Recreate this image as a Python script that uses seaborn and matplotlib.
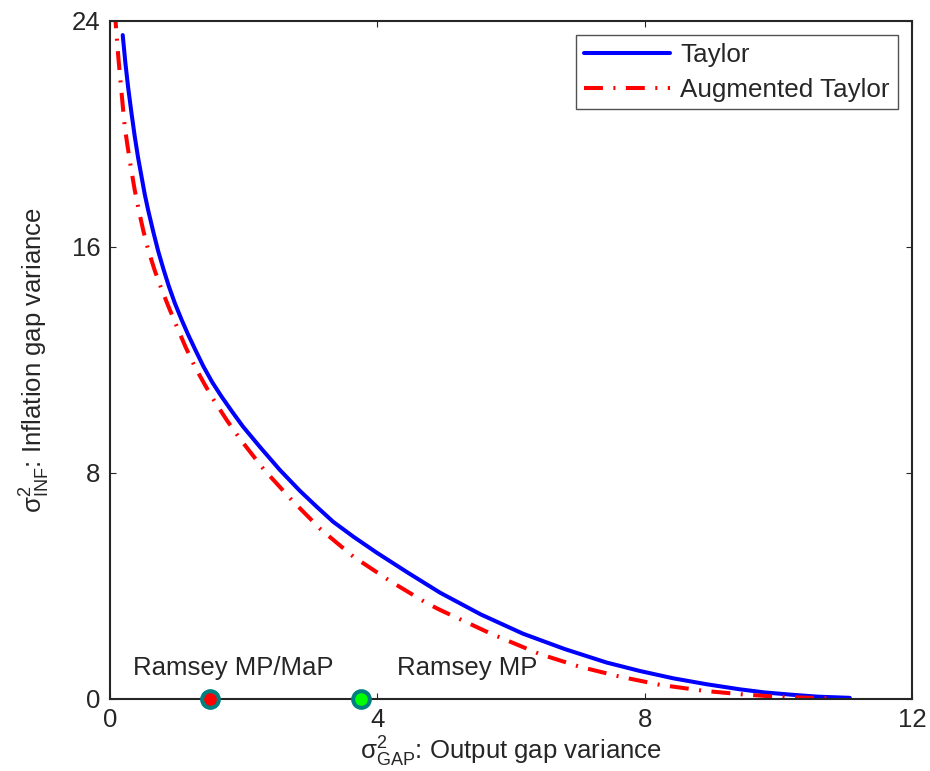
import matplotlib
matplotlib.use("Agg")
import matplotlib.pyplot as plt
import seaborn as sns
import pandas as pd

# ---- data ----
taylor_x = [0.19, 0.23, 0.27, 0.32, 0.37, 0.42, 0.47, 0.52, 0.57, 0.65, 0.72, 0.80, 0.88,
            0.97, 1.07, 1.17, 1.28, 1.40, 1.53, 1.67, 1.83, 1.99, 2.24, 2.54, 2.84, 3.09,
            3.34, 3.65, 3.99, 4.45, 4.94, 5.55, 6.18, 6.80, 7.43, 7.93, 8.43, 8.93, 9.43,
            9.80, 10.2, 10.6, 11.07]
taylor_y = [23.49, 22.5, 21.66, 20.75, 19.9, 19.15, 18.5, 17.85, 17.3, 16.5, 15.85, 15.2, 14.6,
            14.0, 13.42, 12.88, 12.33, 11.75, 11.2, 10.69, 10.15, 9.63, 8.92, 8.1, 7.36, 6.8,
            6.26, 5.72, 5.17, 4.47, 3.75, 2.98, 2.30, 1.76, 1.28, 0.98, 0.72, 0.51, 0.33,
            0.22, 0.14, 0.07, 0.03]

aug_x = [0.07, 0.10, 0.13, 0.16, 0.19, 0.22, 0.26, 0.31, 0.37, 0.44, 0.50, 0.57, 0.67,
         0.77, 0.88, 1.00, 1.13, 1.27, 1.41, 1.55, 1.75, 1.95, 2.30, 2.72, 3.15, 3.64,
         4.20, 4.74, 4.94, 5.70, 6.43, 7.03, 7.63, 8.23, 8.88, 9.47, 9.85, 10.2, 10.5, 10.85]
aug_y = [24.4, 23.43, 22.55, 21.78, 21.0, 20.25, 19.6, 18.83, 18.0, 17.18, 16.55, 15.9, 15.15,
         14.5, 13.85, 13.17, 12.45, 11.75, 11.15, 10.58, 9.85, 9.18, 8.12, 7.03, 6.0, 5.03,
         4.15, 3.38, 3.14, 2.3, 1.58, 1.13, 0.78, 0.49, 0.28, 0.15, 0.09, 0.05, 0.03, 0.01]

points_x = [1.50, 3.76]
points_y = [0.0, 0.0]
points_color = ["#ff0000", "#00ff00"]
point_labels = ["Ramsey MP/MaP", "Ramsey MP"]
label_x = [1.84, 5.34]
label_y = [1.1, 1.1]

series_names = ["Taylor", "Augmented Taylor"]
x_ticks = [0, 4, 8, 12]
y_ticks = [0, 8, 16, 24]

# ---- style ----
sns.set_style("ticks")
grey = "#262626"
plt.rcParams["font.family"] = ["Liberation Sans", "DejaVu Sans"]
plt.rcParams["mathtext.fontset"] = "custom"
plt.rcParams["mathtext.rm"] = "Liberation Sans"
plt.rcParams["mathtext.it"] = "Liberation Sans:italic"
plt.rcParams["mathtext.bf"] = "Liberation Sans:bold"

fig = plt.figure(figsize=(9.3, 7.71), dpi=100)
ax = fig.add_axes([0.1183, 0.0938, 0.8623, 0.8794])

df_t = pd.DataFrame({"x": taylor_x, "y": taylor_y})
df_a = pd.DataFrame({"x": aug_x, "y": aug_y})

sns.lineplot(data=df_t, x="x", y="y", sort=False, color="#0000ff", linewidth=2.9,
             label=series_names[0], ax=ax)
sns.lineplot(data=df_a, x="x", y="y", sort=False, color="#ff0000", linewidth=2.9,
             label=series_names[1], ax=ax)
ax.lines[1].set_dashes((4.7, 2.6, 0.5, 2.6))
for ln in ax.lines[:2]:
    ln.set_solid_joinstyle("round")
    ln.set_dash_joinstyle("round")

for i in range(len(points_x)):
    ax.plot(points_x[i], points_y[i], marker="o", markersize=12, markeredgewidth=2.9,
            markerfacecolor=points_color[i], markeredgecolor="#008080",
            linestyle="none", clip_on=False, zorder=5)

for i, t in enumerate(point_labels):
    ax.text(label_x[i], label_y[i], t, ha="center", va="center", fontsize=18.5, color=grey)

ax.set_xlim(0, 12)
ax.set_ylim(0, 24)
ax.set_xticks(x_ticks)
ax.set_yticks(y_ticks)
ax.tick_params(direction="in", length=4.5, width=0.8, colors=grey, labelsize=18.5,
               top=True, right=True, pad=7)
for s in ax.spines.values():
    s.set_visible(True)
    s.set_color(grey)
    s.set_linewidth(1.5)

ax.set_xlabel(r"$\mathregular{\sigma^2_{GAP}}$: Output gap variance", fontsize=18.5,
              color=grey, labelpad=2)
ax.set_ylabel(r"$\mathregular{\sigma^2_{INF}}$: Inflation gap variance", fontsize=18.5,
              color=grey, labelpad=14)

leg = ax.legend(loc="upper right", fontsize=18.7, frameon=True, fancybox=False,
                edgecolor=grey, handlelength=3.3, borderaxespad=0.55,
                handletextpad=0.4, borderpad=0.3, labelspacing=0.42)
leg.get_frame().set_linewidth(1.0)
for t in leg.get_texts():
    t.set_color(grey)

fig.savefig("out.png", dpi=100)
